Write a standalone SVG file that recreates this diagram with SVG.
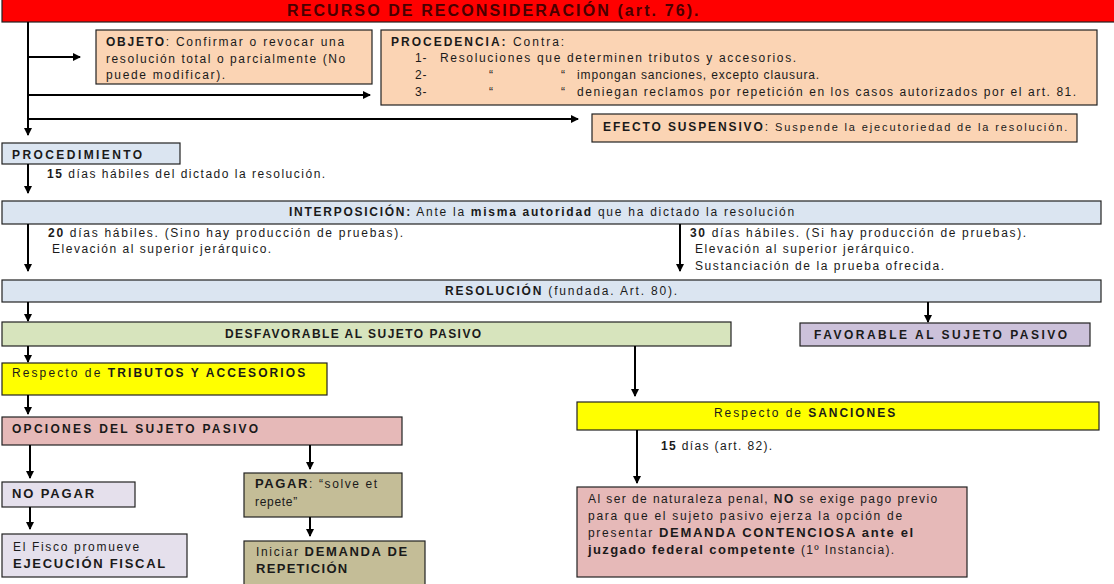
<svg xmlns="http://www.w3.org/2000/svg" width="1114" height="584" viewBox="0 0 1114 584" xml:space="preserve">
<defs>
<marker id="ah" markerWidth="8" markerHeight="8" refX="7" refY="4" orient="auto" markerUnits="userSpaceOnUse">
<path d="M0,0 L8,4 L0,8 Z" fill="#000"/>
</marker>
<style>
text{font-family:"Liberation Sans",Arial,sans-serif;font-size:12px;fill:#1a1a1a;letter-spacing:0.8px}
.b{font-weight:bold}
.box{stroke:#222;stroke-width:1.2}
.peach{fill:#fbd4b4}.blue{fill:#dbe5f1}.green{fill:#d7e4bd}.lav{fill:#ccc1da}
.yel{fill:#ffff00}.pink{fill:#e6b9b8}.pale{fill:#e5e0ec}.khaki{fill:#c4bd97}
.c{stroke:#000;stroke-width:2;fill:none}
.a{marker-end:url(#ah)}
</style>
</defs>
<rect width="1114" height="584" fill="#fff"/>
<g id="title">
<rect x="2" y="-2" width="1114" height="24" fill="#ff0000" class="box"/>
<text x="287" y="16" class="b" style="font-size:16px;fill:#4a0000;letter-spacing:1.5px" textLength="413">RECURSO DE RECONSIDERACIÓN (art. 76).</text>
</g>
<g id="objeto">
<rect x="96" y="30" width="276" height="54" class="box peach"/>
<text x="106" y="46" textLength="239"><tspan class="b">OBJETO</tspan>: Confirmar o revocar una</text>
<text x="106" y="63" textLength="240">resolución total o parcialmente (No</text>
<text x="106" y="79" textLength="120">puede modificar).</text>
</g>
<g id="procedencia">
<rect x="381" y="30" width="716" height="75" class="box peach"/>
<text x="391" y="46" textLength="174"><tspan class="b">PROCEDENCIA:</tspan> Contra:</text>
<text x="415" y="62">1-</text>
<text x="440" y="62" textLength="357">Resoluciones que determinen tributos y accesorios.</text>
<text x="415" y="79">2-</text>
<text x="489" y="79">“</text>
<text x="561" y="79">“</text>
<text x="577" y="79" textLength="243">impongan sanciones, excepto clausura.</text>
<text x="415" y="96">3-</text>
<text x="489" y="96">“</text>
<text x="561" y="96">“</text>
<text x="577" y="96" textLength="500">deniegan reclamos por repetición en los casos autorizados por el art. 81.</text>
</g>
<g id="efecto">
<rect x="592" y="114" width="485" height="28" class="box peach"/>
<text x="603" y="131" textLength="465"><tspan class="b">EFECTO SUSPENSIVO</tspan>: <tspan style="font-size:11px">Suspende la ejecutoriedad de la resolución.</tspan></text>
</g>
<g id="procedimiento">
<rect x="2" y="143" width="178" height="21" class="box blue"/>
<text x="12" y="159" class="b" textLength="131">PROCEDIMIENTO</text>
</g>
<text x="47" y="178" textLength="279"><tspan class="b">15</tspan> días hábiles del dictado la resolución.</text>
<g id="interposicion">
<rect x="2" y="201" width="1099" height="23" class="box blue"/>
<text x="289" y="216" textLength="506"><tspan class="b">INTERPOSICIÓN:</tspan> Ante la <tspan class="b">misma autoridad</tspan> que ha dictado la resolución</text>
</g>
<text x="48" y="237" textLength="356"><tspan class="b">20</tspan>  días hábiles. (Sino hay producción de pruebas).</text>
<text x="52" y="253" textLength="220">Elevación al superior jerárquico.</text>
<text x="690" y="237" textLength="337"><tspan class="b">30</tspan>  días hábiles. (Si hay producción de pruebas).</text>
<text x="695" y="253" textLength="220">Elevación al superior jerárquico.</text>
<text x="695" y="270" textLength="250">Sustanciación de la prueba ofrecida.</text>
<g id="resolucion">
<rect x="2" y="280" width="1099" height="22" class="box blue"/>
<text x="445" y="295" textLength="233"><tspan class="b">RESOLUCIÓN</tspan> (fundada. Art. 80).</text>
</g>
<g id="desfavorable">
<rect x="2" y="322" width="729" height="24" class="box green"/>
<text x="225" y="338" class="b" textLength="257">DESFAVORABLE  AL SUJETO PASIVO</text>
</g>
<g id="favorable">
<rect x="800" y="323" width="290" height="23" class="box lav"/>
<text x="814" y="339" class="b" textLength="254">FAVORABLE  AL SUJETO PASIVO</text>
</g>
<g id="tributos">
<rect x="2" y="363" width="325" height="32" class="box yel"/>
<text x="12" y="377" textLength="294">Respecto de <tspan class="b">TRIBUTOS Y ACCESORIOS</tspan></text>
</g>
<g id="opciones">
<rect x="2" y="417" width="400" height="28" class="box pink"/>
<text x="12" y="433" class="b" textLength="247">OPCIONES DEL SUJETO PASIVO</text>
</g>
<g id="sanciones">
<rect x="577" y="402" width="522" height="28" class="box yel"/>
<text x="714" y="417" textLength="182">Respecto de <tspan class="b">SANCIONES</tspan></text>
</g>
<text x="661" y="450" textLength="112"><tspan class="b">15</tspan> días (art. 82).</text>
<g id="demanda-contenciosa">
<rect x="577" y="487" width="390" height="90" class="box pink"/>
<text x="588" y="503" textLength="350">Al ser de naturaleza penal, <tspan class="b">NO</tspan> se exige pago previo</text>
<text x="588" y="520" textLength="315">para que el  sujeto pasivo ejerza  la opción de</text>
<text x="588" y="537" textLength="326">presentar <tspan class="b" style="font-size:13px">DEMANDA CONTENCIOSA  ante el</tspan></text>
<text x="588" y="554" textLength="307"><tspan class="b" style="font-size:13px">juzgado federal competente</tspan>  (1º Instancia).</text>
</g>
<g id="no-pagar">
<rect x="2" y="482" width="133" height="25" class="box pale"/>
<text x="12" y="498" class="b" style="font-size:13px" textLength="83">NO PAGAR</text>
</g>
<g id="ejecucion">
<rect x="2" y="534" width="185" height="43" class="box pale"/>
<text x="13" y="551" textLength="127">El Fisco promueve</text>
<text x="13" y="568" class="b" style="font-size:13px" textLength="153">EJECUCIÓN  FISCAL</text>
</g>
<g id="pagar">
<rect x="244" y="473" width="158" height="44" class="box khaki"/>
<text x="255" y="488" textLength="123"><tspan class="b" style="font-size:13px">PAGAR</tspan>: “solve et</text>
<text x="255" y="506" textLength="43">repete”</text>
</g>
<g id="repeticion">
<rect x="244" y="541" width="181" height="46" class="box khaki"/>
<text x="256" y="556" textLength="152">Iniciar  <tspan class="b" style="font-size:13px">DEMANDA DE</tspan></text>
<text x="256" y="573" class="b" style="font-size:13px" textLength="92">REPETICIÓN</text>
</g>
<g id="connectors">
<path class="c a" d="M28,22 V135"/>
<path class="c a" d="M28,57 H80"/>
<path class="c a" d="M28,95 H370"/>
<path class="c a" d="M28,119 H578"/>
<path class="c a" d="M28,164 V193"/>
<path class="c a" d="M28,224 V271"/>
<path class="c a" d="M680,224 V271"/>
<path class="c a" d="M28,302 V321"/>
<path class="c a" d="M928,302 V322"/>
<path class="c a" d="M28,346 V362"/>
<path class="c a" d="M28,395 V414"/>
<path class="c a" d="M635,346 V396"/>
<path class="c a" d="M637,430 V483"/>
<path class="c a" d="M30,445 V478"/>
<path class="c a" d="M30,507 V529"/>
<path class="c a" d="M310,445 V469"/>
<path class="c a" d="M310,517 V536"/>
</g>
</svg>
